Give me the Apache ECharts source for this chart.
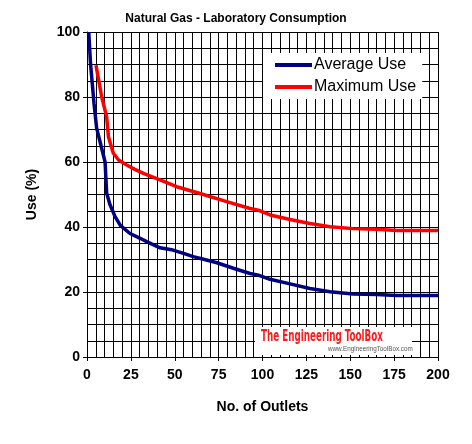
<!DOCTYPE html>
<html>
<head>
<meta charset="utf-8">
<script src="https://cdn.jsdelivr.net/npm/echarts@6/dist/echarts.min.js"></script>
<style>
  html, body { margin: 0; padding: 0; background: #fff; }
  #chart { width: 472px; height: 444px; }
</style>
</head>
<body>
<div id="chart"></div>
<script>
var avgX = [1, 2, 4, 5.5, 8, 10.3, 11.2, 13, 16, 19, 24.5, 30, 34, 41.6, 49, 55, 60.6, 67, 74, 83.4, 92.9, 97.6, 104.3, 115.7, 127, 138.5, 151.6, 165, 176.5, 200];
var avgY = [100, 90.3, 78, 70.4, 65, 60, 50.5, 47, 43.2, 40.5, 38, 36.6, 35.5, 33.6, 32.9, 31.9, 30.9, 30, 29, 27.3, 25.7, 25.2, 23.9, 22.5, 21.1, 20.1, 19.4, 19.2, 18.9, 18.9];
var maxX = [5.1, 8.4, 11.2, 12.2, 15, 18, 22.6, 27, 32.1, 41.6, 51.1, 64.4, 79.6, 92.9, 97.6, 104.3, 115.7, 127, 138.5, 151.7, 165, 176.5, 200];
var maxY = [89.8, 80, 73.9, 67.8, 62.7, 60.6, 59.1, 57.8, 56.5, 54.5, 52.4, 50.3, 47.8, 45.7, 45.2, 43.7, 42.3, 41.1, 40.1, 39.5, 39.3, 38.9, 38.9];

function pairs(xs, ys) {
  var out = [];
  for (var i = 0; i < xs.length; i++) out.push([xs[i], ys[i]]);
  return out;
}

var chart = echarts.init(document.getElementById('chart'), null, { renderer: 'canvas' });

var font = 'Liberation Sans, Arial, sans-serif';

var option = {
  animation: false,
  backgroundColor: '#fff',
  title: {
    text: 'Natural Gas - Laboratory Consumption',
    left: 'center',
    top: 8,
    textStyle: { fontFamily: font, fontSize: 12, fontWeight: 'bold', color: '#000' }
  },
  grid: { left: 87, right: 34, top: 32, bottom: 87 },
  legend: {
    orient: 'vertical',
    left: 263,
    top: 53,
    padding: [4, 6, 4, 12],
    backgroundColor: '#fff',
    itemWidth: 37,
    itemHeight: 4,
    itemGap: 6,
    icon: 'rect',
    textStyle: { fontFamily: font, fontSize: 16, color: '#000', padding: [0, 0, 0, -3] },
    data: ['Average Use', 'Maximum Use']
  },
  xAxis: {
    type: 'value',
    min: 0,
    max: 200,
    interval: 25,
    name: 'No. of Outlets',
    nameLocation: 'middle',
    nameGap: 43,
    nameTextStyle: { fontFamily: font, fontSize: 14, fontWeight: 'bold', color: '#000' },
    axisLine: { show: true, lineStyle: { color: '#000', width: 1 } },
    axisTick: { show: true, length: 4, lineStyle: { color: '#000' } },
    axisLabel: { fontFamily: font, fontSize: 14, fontWeight: 'bold', color: '#000', margin: 11 },
    splitLine: { show: true, lineStyle: { color: '#000', width: 1 } },
    minorTick: { show: false, splitNumber: 5 },
    minorSplitLine: { show: true, lineStyle: { color: '#000', width: 1 } }
  },
  yAxis: {
    type: 'value',
    min: 0,
    max: 100,
    interval: 20,
    name: 'Use (%)',
    nameLocation: 'middle',
    nameGap: 48,
    nameTextStyle: { fontFamily: font, fontSize: 14, fontWeight: 'bold', color: '#000' },
    axisLine: { show: true, lineStyle: { color: '#000', width: 1 } },
    axisTick: { show: true, length: 4, lineStyle: { color: '#000' } },
    axisLabel: { fontFamily: font, fontSize: 14, fontWeight: 'bold', color: '#000', margin: 7 },
    splitLine: { show: true, lineStyle: { color: '#000', width: 1 } },
    minorTick: { show: false, splitNumber: 4 },
    minorSplitLine: { show: true, lineStyle: { color: '#000', width: 1 } }
  },
  series: [
    {
      name: 'Average Use',
      type: 'line',
      data: pairs(avgX, avgY),
      showSymbol: false,
      symbol: 'none',
      color: '#000080',
      lineStyle: { color: '#000080', width: 3.5 },
      z: 3
    },
    {
      name: 'Maximum Use',
      type: 'line',
      data: pairs(maxX, maxY),
      showSymbol: false,
      symbol: 'none',
      color: '#ff0000',
      lineStyle: { color: '#ff0000', width: 3.5 },
      z: 3
    }
  ],
  graphic: [
    {
      type: 'rect',
      left: 255,
      top: 327,
      shape: { width: 157, height: 28 },
      style: { fill: '#fff' },
      z: 10
    },
    {
      type: 'text',
      x: 261,
      y: 330,
      scaleX: 0.65,
      style: {
        text: 'The Engineering ToolBox',
        fill: '#ff1a1a',
        font: 'bold 15px "Liberation Sans Narrow", "DejaVu Sans Condensed", sans-serif'
      },
      z: 11
    },
    {
      type: 'text',
      x: 328,
      y: 346,
      scaleX: 0.9,
      style: {
        text: 'www.EngineeringToolBox.com',
        fill: '#555',
        font: '7px "Liberation Sans", sans-serif'
      },
      z: 11
    }
  ]
};

option && chart.setOption(option);
</script>
</body>
</html>
